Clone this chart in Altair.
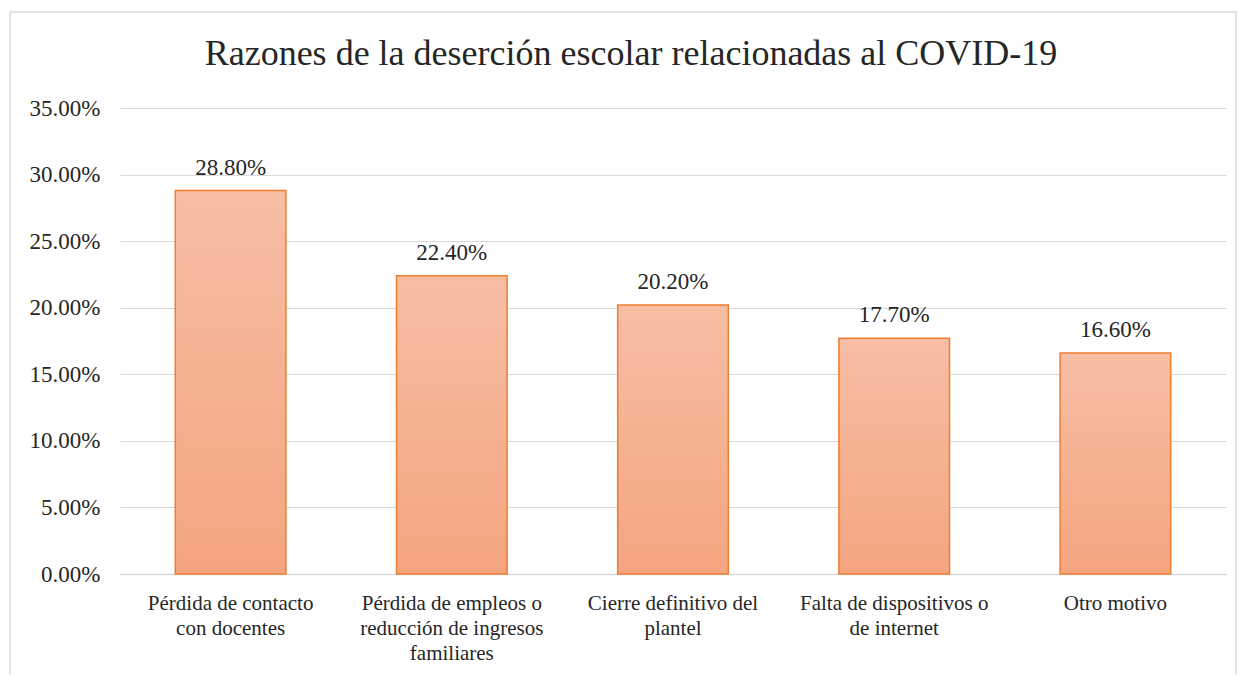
import altair as alt
import pandas as pd

categories = [
    "Pérdida de contacto\ncon docentes",
    "Pérdida de empleos o\nreducción de ingresos\nfamiliares",
    "Cierre definitivo del\nplantel",
    "Falta de dispositivos o\nde internet",
    "Otro motivo",
]
values = [0.288, 0.224, 0.202, 0.177, 0.166]
labels = ["28.80%", "22.40%", "20.20%", "17.70%", "16.60%"]
title_text = "Razones de la deserción escolar relacionadas al COVID-19"

df = pd.DataFrame({"cat": categories, "val": values, "lab": labels})
FONT = "Liberation Serif"

x_enc = alt.X(
    "cat:N", sort=categories, title=None,
    scale=alt.Scale(paddingInner=0.5, paddingOuter=0.25),
    axis=alt.Axis(labelAngle=0, labelExpr="split(datum.label, '\\n')",
                  labelFont=FONT, labelFontSize=21, labelColor="#262626",
                  labelLineHeight=25, labelPadding=18, ticks=False,
                  domainColor="#d9d9d9", domainWidth=1.3, labelLimit=300),
)
y_enc = alt.Y(
    "val:Q", title=None,
    scale=alt.Scale(domain=[0, 0.35], nice=False),
    axis=alt.Axis(format=".2%", values=[0, 0.05, 0.1, 0.15, 0.2, 0.25, 0.3, 0.35],
                  labelFont=FONT, labelFontSize=23, labelColor="#262626",
                  labelPadding=20, ticks=False, domain=False,
                  gridColor="#d9d9d9", gridWidth=1.2),
)

grad = alt.Gradient(
    gradient="linear", x1=0, y1=0, x2=0, y2=1,
    stops=[alt.GradientStop(color="#F7BEA4", offset=0),
           alt.GradientStop(color="#F4A580", offset=1)],
)

bars = alt.Chart(df).mark_bar(
    fill=grad, stroke="#ED7D31", strokeWidth=1.5
).encode(x=x_enc, y=y_enc)

text = alt.Chart(df).mark_text(
    font=FONT, fontSize=23, color="#262626", baseline="alphabetic", dy=-16
).encode(x=alt.X("cat:N", sort=categories), y="val:Q", text="lab:N")

border = alt.Chart(pd.DataFrame({"a": [0]})).mark_rect(
    fill=None, stroke="#d9d9d9", strokeWidth=1.5
).encode(x=alt.value(-110), x2=alt.value(1116), y=alt.value(-96), y2=alt.value(700))

title = alt.Chart(pd.DataFrame({"t": [title_text]})).mark_text(
    font=FONT, fontSize=36, color="#262626", baseline="alphabetic", align="center"
).encode(x=alt.value(511), y=alt.value(-43), text="t:N")

chart = alt.layer(border, bars, text, title).properties(
    width=1106, height=466,
    autosize=alt.AutoSizeParams(type="none"),
    padding={"left": 112, "top": 100, "right": 12, "bottom": 100},
).configure_view(stroke=None)

chart.save("out.html", embed_options={"renderer": "svg", "actions": False})
